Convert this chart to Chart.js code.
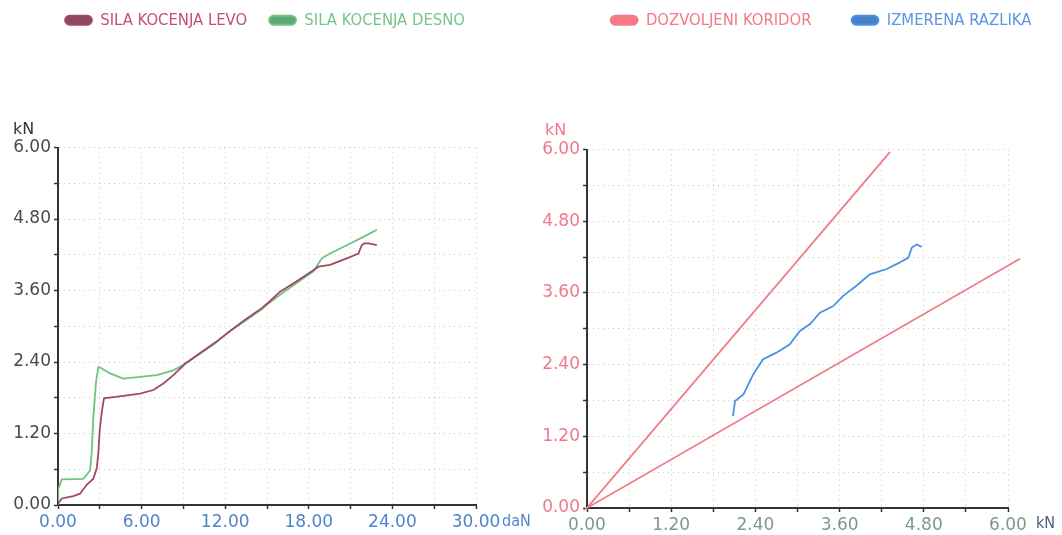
<!DOCTYPE html>
<html>
<head>
<meta charset="utf-8">
<script src="https://cdn.jsdelivr.net/npm/chart.js@4.4.0/dist/chart.umd.min.js"></script>
<style>
  html, body { margin: 0; padding: 0; background: #fff; overflow: hidden; }
  body { width: 1062px; height: 535px; position: relative; }
  canvas { position: absolute; }
  #left { left: 0; top: -10px; }
  #right { left: 530px; top: -28px; }
</style>
</head>
<body>
<canvas id="left" width="530" height="545"></canvas>
<canvas id="right" width="582" height="570"></canvas>
<script>
// left chart: braking force left / right wheel (daN -> kN)
const levoX = [0, 0.27, 1.1, 1.58, 2.06, 2.53, 2.78, 2.9, 3.0, 3.14, 3.3, 4.69, 5.89, 6.84, 7.56, 8.28, 9.12,
  10.2, 11.3, 12.4, 13.5, 14.6, 15.2, 15.94, 17.1, 18.33, 18.69, 19.53, 20.72, 21.56, 21.8, 21.97, 22.28, 22.88];
const levoY = [0.02, 0.11, 0.15, 0.19, 0.34, 0.44, 0.61, 0.89, 1.28, 1.56, 1.79, 1.83, 1.87, 1.93, 2.04, 2.18, 2.37,
  2.55, 2.73, 2.93, 3.12, 3.3, 3.42, 3.58, 3.75, 3.94, 4.0, 4.03, 4.14, 4.22, 4.36, 4.39, 4.39, 4.36];

const desnoX = [0, 0.02, 0.27, 1.82, 2.3, 2.42, 2.53, 2.73, 2.9, 3.14, 3.73, 4.69, 5.89, 7.08, 8.28, 9.12,
  10.2, 11.3, 12.4, 13.5, 14.6, 15.2, 15.94, 17.1, 18.33, 18.93, 19.53, 20.72, 21.92, 22.88];
const desnoY = [0.02, 0.27, 0.43, 0.44, 0.58, 0.89, 1.45, 2.07, 2.32, 2.29, 2.21, 2.12, 2.15, 2.18, 2.26, 2.37,
  2.54, 2.72, 2.93, 3.1, 3.28, 3.4, 3.53, 3.72, 3.92, 4.14, 4.22, 4.36, 4.5, 4.62];

// right chart: allowed corridor (two rays from origin) and measured difference
const koridorX = [4.32, 0, 6.17];
const koridorY = [5.96, 0, 4.17];

const razlikaX = [2.08, 2.11, 2.23, 2.37, 2.51, 2.7, 2.89, 3.03, 3.18, 3.32, 3.51, 3.65, 3.84, 4.03, 4.27, 4.46,
  4.58, 4.63, 4.7, 4.77];
const razlikaY = [1.54, 1.79, 1.9, 2.24, 2.49, 2.6, 2.74, 2.96, 3.08, 3.27, 3.38, 3.55, 3.72, 3.91, 4.0, 4.11,
  4.19, 4.36, 4.41, 4.37];

const leftXTicks = ['0.00', '6.00', '12.00', '18.00', '24.00', '30.00'];
const kNTicks = ['0.00', '1.20', '2.40', '3.60', '4.80', '6.00'];

const narrowFont = "'DejaVu Sans Condensed', 'Liberation Sans Narrow', sans-serif";

const toPoints = (xs, ys) => xs.map((x, i) => ({ x: x, y: ys[i] }));

const unitLabels = {
  id: 'unitLabels',
  afterDraw(chart, args, opts) {
    const { ctx, chartArea } = chart;
    ctx.save();
    ctx.textBaseline = 'middle';
    ctx.textAlign = 'left';
    ctx.font = '16px "DejaVu Sans"';
    ctx.fillStyle = opts.yColor;
    ctx.fillText(opts.yText, opts.yLeft, chartArea.top - opts.yRaise);
    ctx.font = '16px ' + narrowFont;
    ctx.fillStyle = opts.xColor;
    ctx.fillText(opts.xText, chartArea.right + opts.xGap, chartArea.bottom + opts.xDrop);
    ctx.restore();
  }
};

function linearAxis(max, step, labels, color, fit) {
  return {
    type: 'linear',
    min: 0,
    max: max,
    afterFit: fit,
    border: { display: true, color: '#35323f', width: 2, dash: [1, 4] },
    grid: {
      color: 'rgba(0,0,0,0.22)',
      borderDash: [1, 4],
      tickLength: 4,
      tickColor: '#333',
      tickWidth: 1.5,
      tickBorderDash: [],
    },
    ticks: {
      stepSize: step,
      autoSkip: false,
      maxRotation: 0,
      padding: 3,
      color: color,
      font: { family: 'DejaVu Sans', size: 17 },
      callback: (value, index) => index % 2 === 0 ? labels[index / 2] : '',
    },
  };
}

function legendOptions(gap, colors) {
  return {
    display: true,
    position: 'top',
    labels: {
      boxWidth: 27,
      boxHeight: 9,
      padding: gap,
      useBorderRadius: true,
      borderRadius: 4.5,
      font: { family: narrowFont, size: 16.5 },
      generateLabels: (chart) => {
        const items = Chart.defaults.plugins.legend.labels.generateLabels(chart);
        items.forEach((item, i) => { item.fontColor = colors[i]; });
        return items;
      },
    },
  };
}

function makeChart(id, datasets, cfg) {
  return new Chart(document.getElementById(id), {
    type: 'line',
    data: { datasets: datasets },
    plugins: [unitLabels],
    options: {
      responsive: false,
      animation: false,
      devicePixelRatio: 1,
      layout: { padding: { top: 0, left: 0, right: 0, bottom: cfg.bottom } },
      elements: { point: { radius: 0 }, line: { tension: 0, borderWidth: 1.8 } },
      plugins: {
        tooltip: { enabled: false },
        legend: legendOptions(cfg.legendGap, cfg.legendColors),
        title: { display: true, text: '', weight: 500, font: { size: 12 }, padding: { top: 0, bottom: cfg.spacer } },
        unitLabels: cfg.units,
      },
      scales: {
        x: linearAxis(cfg.xMax, cfg.xStep, cfg.xLabels, cfg.xColor, s => { s.height = 28; }),
        y: linearAxis(6, 0.6, kNTicks, cfg.yColor, s => { s.width = cfg.yWidth; }),
        pad: {
          type: 'linear',
          position: 'right',
          afterFit: s => { s.width = cfg.rightPad; },
          ticks: { display: false },
          grid: { display: false, drawTicks: false },
          border: { display: false },
        },
      },
    },
  });
}

makeChart('left', [
  {
    label: 'SILA KOCENJA LEVO',
    data: toPoints(levoX, levoY),
    borderColor: '#a04a62',
    backgroundColor: '#8e4a5c',
    yAxisID: 'y',
  },
  {
    label: 'SILA KOCENJA DESNO',
    data: toPoints(desnoX, desnoY),
    borderColor: '#6cc480',
    backgroundColor: '#62a877',
    yAxisID: 'y',
  },
], {
  bottom: 2, legendGap: 22, legendColors: ['#c4506c', '#76c48a'], spacer: 94.6,
  xMax: 30, xStep: 3, xLabels: leftXTicks, xColor: '#4f84cc', yColor: '#4a4a4a',
  yWidth: 58, rightPad: 54,
  units: { yText: 'kN', yLeft: 13, yRaise: 18, yColor: '#333', xText: 'daN', xGap: 26, xDrop: 17, xColor: '#4f84cc' },
});

makeChart('right', [
  {
    label: 'DOZVOLJENI KORIDOR',
    data: toPoints(koridorX, koridorY),
    borderColor: '#f27c86',
    backgroundColor: '#f47a85',
    clip: false,
    yAxisID: 'y',
  },
  {
    label: 'IZMERENA RAZLIKA',
    data: toPoints(razlikaX, razlikaY),
    borderColor: '#4a92e2',
    backgroundColor: '#4a80c8',
    yAxisID: 'y',
  },
], {
  bottom: 6, legendGap: 40, legendColors: ['#f27a85', '#5b95e0'], spacer: 96.6,
  xMax: 6, xStep: 0.6, xLabels: kNTicks, xColor: '#7d9a86', yColor: '#f0788a',
  yWidth: 57, rightPad: 104,
  units: { yText: 'kN', yLeft: 15, yRaise: 19, yColor: '#f0788a', xText: 'kN', xGap: 28, xDrop: 16, xColor: '#4a6080' },
});
</script>
</body>
</html>
